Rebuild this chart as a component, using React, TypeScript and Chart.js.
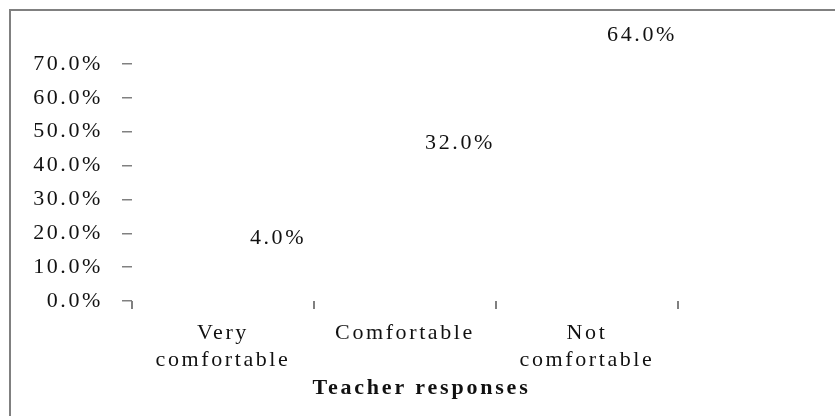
import React, { useEffect, useRef } from "react";
import { Chart, registerables } from "chart.js";

Chart.register(...registerables);

const categories: string[][] = [["Very", "comfortable"], ["Comfortable"], ["Not", "comfortable"]];
const values: number[] = [4.0, 32.0, 64.0];
const yTicks: number[] = [0, 10, 20, 30, 40, 50, 60, 70];
const axisTitle = "Teacher responses";

const FONT = "'Liberation Serif', 'Times New Roman', serif";
const TEXT = "#111111";
const GRAY = "#808080";
const SPACING = "2.6px";

const spacingPlugin = {
  id: "letterSpacing",
  beforeUpdate(chart: any) {
    chart.ctx.letterSpacing = SPACING;
  },
  beforeDraw(chart: any) {
    chart.ctx.letterSpacing = SPACING;
  },
};

const valueLabelPlugin = {
  id: "valueLabels",
  afterDatasetsDraw(chart: any) {
    const ctx = chart.ctx;
    const meta = chart.getDatasetMeta(0);
    ctx.save();
    ctx.letterSpacing = SPACING;
    ctx.font = `22px ${FONT}`;
    ctx.fillStyle = TEXT;
    ctx.textAlign = "center";
    ctx.textBaseline = "middle";
    meta.data.forEach((bar: any, i: number) => {
      const v = values[i];
      ctx.fillText(v.toFixed(1) + "%", bar.x + 55, bar.y - 49);
    });
    ctx.restore();
  },
};

const bottomTitlePlugin = {
  id: "bottomTitle",
  afterDraw(chart: any) {
    const ctx = chart.ctx;
    const xs = chart.scales.x;
    ctx.save();
    ctx.letterSpacing = "2.8px";
    ctx.font = `bold 22px ${FONT}`;
    ctx.fillStyle = TEXT;
    ctx.textAlign = "center";
    ctx.textBaseline = "middle";
    ctx.fillText(axisTitle, chart.width / 2 + 4, xs.bottom + 15);
    ctx.restore();
  },
};

export default function App() {
  const ref = useRef<HTMLCanvasElement | null>(null);
  useEffect(() => {
    if (!ref.current) return;
    const chart = new Chart(ref.current, {
      type: "bar",
      data: {
        labels: categories,
        datasets: [
          {
            data: values,
            backgroundColor: "rgba(0,0,0,0)",
            borderWidth: 0,
          },
        ],
      },
      options: {
        animation: false,
        responsive: false,
        layout: { padding: { top: 64, right: 157, left: 0, bottom: 43 } },
        plugins: {
          legend: { display: false },
          tooltip: { enabled: false },
          title: { display: false },
        },
        scales: {
          x: {
            border: { display: false },
            grid: {
              offset: true,
              drawOnChartArea: false,
              drawTicks: true,
              tickLength: 8,
              color: GRAY,
              lineWidth: 2,
            },
            ticks: {
              color: TEXT,
              padding: 10,
              maxRotation: 0,
              autoSkip: false,
              font: { family: FONT, size: 22, lineHeight: 1.25 },
            },
            afterFit(scale: any) {
              scale.height = 72;
            },
          },
          y: {
            min: 0,
            max: 70,
            border: { display: false },
            grid: {
              drawOnChartArea: false,
              drawTicks: true,
              tickLength: 10,
              color: GRAY,
              lineWidth: 1.5,
            },
            afterBuildTicks(scale: any) {
              scale.ticks = yTicks.map((v) => ({ value: v }));
            },
            ticks: {
              color: TEXT,
              padding: 19,
              font: { family: FONT, size: 22 },
              callback: (v: any) => Number(v).toFixed(1) + "%",
            },
            afterFit(scale: any) {
              scale.width = 132;
            },
          },
        },
      },
      plugins: [spacingPlugin, valueLabelPlugin, bottomTitlePlugin],
    });
    return () => chart.destroy();
  }, []);

  return (
    <div>
      <div
        style={{
          position: "absolute",
          left: 9,
          top: 9,
          width: 900,
          height: 500,
          borderLeft: `2px solid ${GRAY}`,
          borderTop: `2px solid ${GRAY}`,
        }}
      />
      <canvas
        ref={ref}
        width={835}
        height={416}
        style={{ position: "absolute", left: 0, top: 0, width: 835, height: 416 }}
      />
    </div>
  );
}
